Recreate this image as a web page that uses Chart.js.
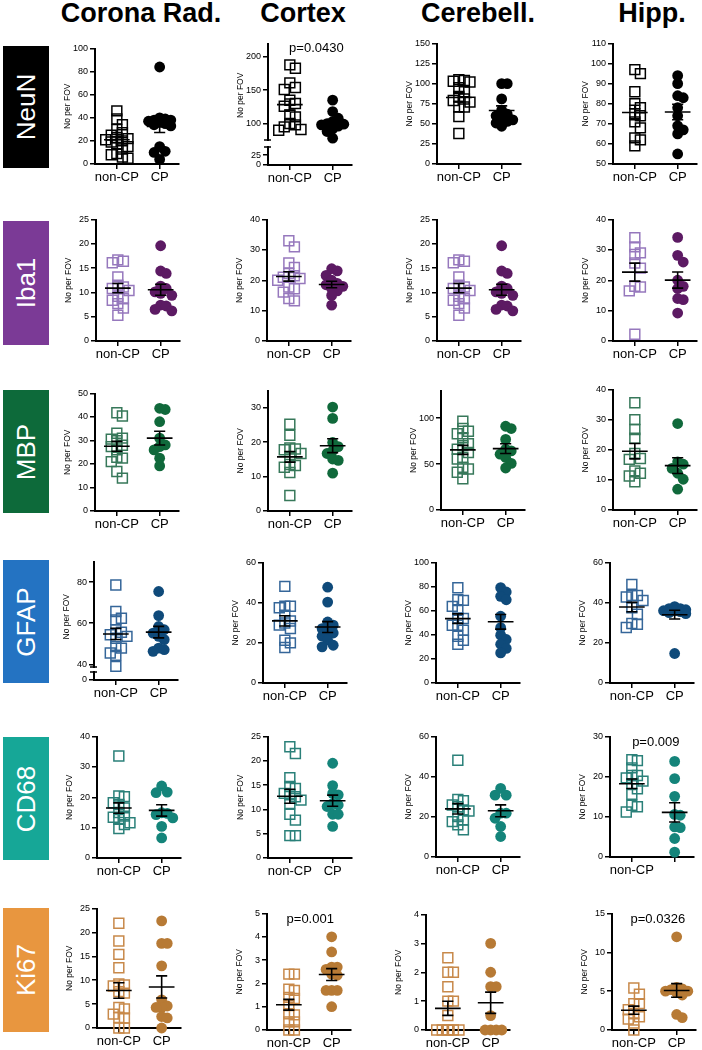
<!DOCTYPE html>
<html>
<head>
<meta charset="utf-8">
<script src="https://cdn.jsdelivr.net/npm/chart.js@4.4.0/dist/chart.umd.min.js"></script>
<style>
body { margin:0; background:#fff; width:702px; height:1050px; position:relative; overflow:hidden; font-family:"Liberation Sans", Arial, Helvetica, sans-serif; }
.head { position:absolute; top:0; font-weight:bold; font-size:27px; line-height:27px; transform:translateX(-50%); white-space:nowrap; }
.tag { position:absolute; left:3px; width:46px; display:flex; align-items:center; justify-content:center; }
.tag span { color:#fff; font-size:26px; line-height:26px; transform:rotate(-90deg); white-space:nowrap; display:block; }
canvas { position:absolute; }
</style>
</head>
<body>
<script>
//DATA
const groups = ['non-CP', 'CP'];
const regions = ['Corona Rad.', 'Cortex', 'Cerebell.', 'Hipp.'];
const markers = ['NeuN', 'Iba1', 'MBP', 'GFAP', 'CD68', 'Ki67'];
const yTitle = 'No per FOV';

const neunCoronaNon = [46, 39, 34, 30, 27, 25, 23, 22, 21, 20, 19, 17, 15, 13, 9, 8, 6, 5];
const neunCoronaCp = [84, 40, 39, 38, 38, 37, 36, 35, 34, 33, 15, 11, 10, 4];
const neunCortexNon = [188, 183, 161, 154, 151, 135, 130, 126, 113, 110, 100, 98, 95, 91, 90];
const neunCortexCp = [135, 118, 108, 103, 100, 99, 98, 96, 92, 88, 78];
const neunCerebNon = [105, 104, 103, 102, 95, 90, 84, 81, 79, 77, 71, 71, 59, 38];
const neunCerebCp = [100, 100, 81, 67, 62, 60, 57, 55, 53, 51, 47];
const neunHippNon = [97, 95, 86, 80, 78, 75, 74, 71, 68, 63, 62, 59];
const neunHippCp = [94, 90, 84, 83, 78, 74, 69, 67, 65, 55];

const iba1CoronaNon = [16.7, 16.4, 16.1, 13.2, 11.5, 11.1, 10.8, 10.4, 9.2, 8.7, 8.4, 7.7, 6.8, 5.3];
const iba1CoronaCp = [19.6, 14.4, 13.9, 11.3, 10.8, 10.1, 9.8, 9.4, 7.4, 7.2, 6.5, 6.2];
const iba1CortexNon = [33, 31, 25.7, 24.2, 22.2, 21.5, 21, 20.6, 20, 17.8, 17.2, 16.1, 14, 13.2];
const iba1CortexCp = [23.8, 23.1, 21.6, 20, 19, 18.5, 18, 17.3, 16.5, 15, 11.8];
const iba1CerebNon = [16.7, 16.4, 16.1, 13.2, 11.5, 11.1, 10.8, 10.4, 9.2, 8.7, 8.4, 7.7, 6.8, 5.3];
const iba1CerebCp = [19.6, 14.4, 13.9, 11.3, 10.8, 10.1, 9.8, 9.4, 7.4, 7.2, 6.5, 6.2];
const iba1HippNon = [34, 31, 29, 28.5, 25.7, 24, 18, 17.8, 16.5, 2.2];
const iba1HippCp = [34.1, 28.2, 26, 20, 18, 17.3, 14, 13.6, 9.2];

const mbpCoronaNon = [41.8, 40.4, 33.1, 31, 30.6, 29.9, 28, 27.4, 26, 22.9, 22.5, 21, 16.8, 14];
const mbpCoronaCp = [43.7, 43.2, 38, 31, 28.1, 27.4, 26, 22.5, 19.2];
const mbpCortexNon = [25.2, 22, 18.3, 18, 17.8, 16.7, 15.6, 13.5, 13.2, 12.7, 11.2, 4.5];
const mbpCortexCp = [30.2, 26.9, 19.9, 18.7, 17.5, 16.7, 15.1, 14.7, 11];
const mbpCerebNon = [96.5, 88.6, 85.7, 82.9, 78.6, 72, 70, 66.1, 62.5, 57.1, 55.4, 46.4, 44.6, 41, 34];
const mbpCerebCp = [91.1, 88.6, 76.8, 66.1, 64.3, 60.7, 57.1, 50.7, 45.7];
const mbpHippNon = [35.6, 30, 26.7, 23.8, 18.8, 17.1, 16.8, 13, 12.2, 11.3, 9.4];
const mbpHippCp = [28.7, 16, 15.2, 13.8, 12.2, 10.2, 6.9];

const gfapCoronaNon = [78.6, 65.7, 62.4, 61.6, 56.8, 55.6, 54.4, 53.6, 52.7, 48.7, 47.9, 45.5, 44.4, 39];
const gfapCoronaCp = [75.4, 63.7, 58.4, 56.8, 55.2, 53.6, 52, 47.9, 47.1, 46.3];
const gfapCortexNon = [48.1, 38.2, 38.2, 37.5, 33.7, 30.9, 29.9, 28.8, 27.1, 21.3, 20, 17.7];
const gfapCortexCp = [47.7, 40.3, 30.4, 28.8, 27.1, 25.9, 24.9, 23.3, 21.3, 18.8, 18];
const gfapCerebNon = [79.1, 69.1, 68.6, 63.6, 60.3, 53.9, 53.5, 47.9, 47.9, 43.8, 38.8, 35.5, 32.2];
const gfapCerebCp = [79.1, 75.5, 71.9, 69.1, 55.4, 46, 39.7, 36.1, 32.2, 28.7, 25];
const gfapHippNon = [49.1, 43.6, 43.6, 42.8, 41.1, 37.5, 34.2, 29.6, 29.2, 27.6];
const gfapHippCp = [38, 37, 37, 36.5, 36, 36, 35.5, 35, 34.5, 14.7];

const cd68CoronaNon = [33.6, 20.4, 20.2, 18.2, 17.6, 16.5, 15, 13.8, 13.4, 12.7, 11.6, 11, 9.7];
const cd68CoronaCp = [23.7, 21.7, 21.5, 14.9, 14.7, 14.3, 13.2, 10.4, 6.6];
const cd68CortexNon = [22.9, 21.5, 16.5, 14.7, 14.3, 13.3, 13, 12.6, 11.9, 11.2, 9, 7.8, 4.6, 4.6];
const cd68CortexCp = [19.5, 14.9, 13.3, 13, 11.2, 10.9, 10.6, 9, 9, 6.5];
const cd68CerebNon = [48.2, 28.7, 28, 25.9, 25, 23.4, 22.9, 20.1, 18.5, 17.6, 16, 13.5];
const cd68CerebCp = [34.2, 30.8, 30.8, 21.8, 21.8, 19.3, 15.2, 10.2];
const cd68HippNon = [24.2, 24, 22.2, 20.3, 20.3, 19.7, 18.9, 18.2, 17, 15.6, 12.9, 12.5, 11.2];
const cd68HippCp = [23.8, 19.5, 15.1, 10.6, 10.4, 7.5, 7.3, 4.6, 1.2];

const ki67CoronaNon = [21.9, 18.2, 15.4, 12.6, 9.2, 9, 8.8, 7.6, 7.3, 4.3, 4, 2.9, 2.2, 2.1, 0, 0];
const ki67CoronaCp = [22.4, 17.7, 17.7, 13, 5.9, 4.6, 4.3, 4.3, 2.4, 2.1, 0];
const ki67CortexNon = [2.4, 2.4, 1.75, 1.7, 1.4, 1.35, 1.05, 0.7, 0.65, 0.35, 0.35, 0, 0];
const ki67CortexCp = [4, 3.35, 2.7, 2.7, 2.6, 2.4, 2.35, 1.7, 1.7, 1.7, 1];
const ki67CerebNon = [2.5, 2, 2, 1.5, 1, 1, 0.5, 0, 0, 0, 0, 0, 0, 0];
const ki67CerebCp = [3, 2, 1.5, 1.5, 0.5, 0, 0, 0, 0];
const ki67HippNon = [5.4, 4.6, 3.4, 3.4, 2.6, 2.1, 1.7, 1.4, 0.9, 0];
const ki67HippCp = [12, 5.5, 5.3, 5.2, 5, 5, 4.8, 4.5, 2, 1.6];

// y tick labels, one list per panel
const neunTicks = [[0, 20, 40, 60, 80, 100], [100, 150, 200], [0, 25, 50, 75, 100, 125, 150], [50, 60, 70, 80, 90, 100, 110]];
const iba1Ticks = [[0, 5, 10, 15, 20, 25], [0, 10, 20, 30, 40], [0, 5, 10, 15, 20, 25], [0, 10, 20, 30, 40]];
const mbpTicks = [[0, 10, 20, 30, 40, 50], [0, 10, 20, 30], [0, 50, 100], [0, 10, 20, 30, 40]];
const gfapTicks = [[40, 60, 80], [0, 20, 40, 60], [0, 20, 40, 60, 80, 100], [0, 20, 40, 60]];
const cd68Ticks = [[0, 10, 20, 30, 40], [0, 5, 10, 15, 20, 25], [0, 20, 40, 60], [0, 10, 20, 30]];
const ki67Ticks = [[0, 5, 10, 15, 20, 25], [0, 1, 2, 3, 4, 5], [0, 1, 2, 3, 4], [0, 5, 10, 15]];
const neunCortexLowTicks = [0, 25];
const gfapCoronaLowTicks = [0];
const cd68HippLabels = ['non-CP', ''];
//DATA

const series = [
  [[neunCoronaNon, neunCoronaCp], [neunCortexNon, neunCortexCp], [neunCerebNon, neunCerebCp], [neunHippNon, neunHippCp]],
  [[iba1CoronaNon, iba1CoronaCp], [iba1CortexNon, iba1CortexCp], [iba1CerebNon, iba1CerebCp], [iba1HippNon, iba1HippCp]],
  [[mbpCoronaNon, mbpCoronaCp], [mbpCortexNon, mbpCortexCp], [mbpCerebNon, mbpCerebCp], [mbpHippNon, mbpHippCp]],
  [[gfapCoronaNon, gfapCoronaCp], [gfapCortexNon, gfapCortexCp], [gfapCerebNon, gfapCerebCp], [gfapHippNon, gfapHippCp]],
  [[cd68CoronaNon, cd68CoronaCp], [cd68CortexNon, cd68CortexCp], [cd68CerebNon, cd68CerebCp], [cd68HippNon, cd68HippCp]],
  [[ki67CoronaNon, ki67CoronaCp], [ki67CortexNon, ki67CortexCp], [ki67CerebNon, ki67CerebCp], [ki67HippNon, ki67HippCp]]
];
const tickSets = [neunTicks, iba1Ticks, mbpTicks, gfapTicks, cd68Ticks, ki67Ticks];

//LAYOUT  [axis x, top px, bottom px, min, max]
const layout = [
  [[95, 48, 164, 0, 100], [268, 43, 165, 64.7, 220], [437, 43, 164, 0, 150], [613, 43, 164, 50, 110]],
  [[96, 219, 341, 0, 25], [267, 219, 341, 0, 40], [437, 219, 341, 0, 25], [613, 219, 341, 0, 40]],
  [[95, 393, 511, 0, 50], [268, 390, 511, 0, 35], [441, 390, 510, 0, 130], [613, 389, 510, 0, 40]],
  [[94, 561, 680, 36.25, 90], [263, 562, 683, 0, 60], [436, 562, 683, 0, 100], [610, 562, 683, 0, 60]],
  [[97, 736, 858, 0, 40], [268, 736, 858, 0, 25], [436, 736, 857, 0, 60], [610, 736, 857, 0, 30]],
  [[97, 908, 1028, 0, 25], [267, 913, 1030, 0, 5], [426, 914, 1030, 0, 4], [612, 913, 1030, 0, 15]]
];
const breaks = {
  '0,1': {at: 76, lowMax: 45, lowPx: 18, low: neunCortexLowTicks},
  '3,0': {at: 38.7, lowMax: 10, lowPx: 8, low: gfapCoronaLowTicks}
};
const notes = {
  '0,1': ['p=0.0430', 0.62, 212],
  '4,3': ['p=0.009', 0.56, 28.6],
  '5,1': ['p=0.001', 0.5, 4.76],
  '5,3': ['p=0.0326', 0.56, 14.3]
};
const rowColors = [
  {box: '#000000', sq: '#000000', dot: '#000000'},
  {box: '#7b3a96', sq: '#9678bd', dot: '#5c1a63'},
  {box: '#0d6a3a', sq: '#37785a', dot: '#10693b'},
  {box: '#2473c2', sq: '#356699', dot: '#0f4a7a'},
  {box: '#16a797', sq: '#2a8079', dot: '#14847a'},
  {box: '#e8963f', sq: '#c8894a', dot: '#b77a35'}
];
const tagSpans = [[46, 168], [221, 345], [390, 513], [560, 683], [737, 860], [908, 1032]];
const headX = [141, 303, 478, 652];
const FONT = '"Liberation Sans", Arial, Helvetica, sans-serif';
const PAD_T = 8, PAD_R = 8, YW = 34, XH = 28, PLOT_W = 84;
const STEP = 0.13; // horizontal step between side-by-side points, x units
//LAYOUT

Chart.defaults.font.family = FONT;
Chart.defaults.color = '#000';

//HEADERS AND ROW TAGS
regions.forEach((t, i) => {
  const d = document.createElement('div');
  d.className = 'head';
  d.style.left = headX[i] + 'px';
  d.textContent = t;
  document.body.appendChild(d);
});
markers.forEach((t, i) => {
  const d = document.createElement('div');
  d.className = 'tag';
  d.style.top = tagSpans[i][0] + 'px';
  d.style.height = (tagSpans[i][1] - tagSpans[i][0]) + 'px';
  d.style.background = rowColors[i].box;
  d.innerHTML = '<span>' + t + '</span>';
  document.body.appendChild(d);
});

//PLUGINS
const notePlugin = {
  id: 'note',
  afterDatasetsDraw(chart, args, opts) {
    if (!opts.text) return;
    const ctx = chart.ctx;
    ctx.save();
    ctx.font = '13px ' + FONT;
    ctx.fillStyle = '#000';
    ctx.textAlign = 'center';
    ctx.textBaseline = 'middle';
    ctx.fillText(opts.text, chart.scales.x.getPixelForValue(opts.x), chart.scales.y.getPixelForValue(opts.y));
    ctx.restore();
  }
};
const breakPlugin = {
  id: 'axisBreak',
  beforeDatasetsDraw(chart, args, opts) {
    if (opts.at === undefined || !chart.scales.y2) return;
    const ctx = chart.ctx;
    const x0 = chart.chartArea.left;
    const a = Math.round(chart.scales.y.getPixelForValue(opts.at));
    const b = Math.round(chart.scales.y2.top);
    ctx.save();
    ctx.fillStyle = '#fff';
    ctx.fillRect(x0 - 3, a + 1, 6, b - a - 2);
    ctx.strokeStyle = '#000';
    ctx.lineWidth = 1.5;
    ctx.beginPath();
    ctx.moveTo(x0 - 4, a); ctx.lineTo(x0 + 3, a);
    ctx.moveTo(x0 - 4, b); ctx.lineTo(x0 + 3, b);
    ctx.stroke();
    ctx.restore();
  }
};

//FUNCIONES
function spread(vals, center, unitPx) { // puts close values side by side
  const placed = [];
  const out = new Array(vals.length);
  const slots = [0, 1, -1, 2, -2];
  const order = vals.map((v, i) => i).sort((a, b) => vals[b] - vals[a]);
  order.forEach(i => {
    const v = vals[i];
    let best = 0, bestGap = -1;
    for (const s of slots) {
      const near = placed.filter(p => p.s === s).map(p => Math.abs(p.v - v) * unitPx);
      const gap = near.length ? Math.min(...near) : 99;
      if (gap >= 7) { best = s; bestGap = gap; break; }
      if (gap > bestGap) { best = s; bestGap = gap; }
    }
    placed.push({s: best, v});
    out[i] = {x: center + best * STEP, y: v};
  });
  return out;
}

function summary(vals, cx) { // mean line with SEM whiskers
  const n = vals.length;
  const m = vals.reduce((a, b) => a + b, 0) / n;
  const sd = Math.sqrt(vals.reduce((a, b) => a + (b - m) ** 2, 0) / (n - 1));
  const se = sd / Math.sqrt(n);
  const gap = {x: cx, y: null};
  return [
    {x: cx - 0.3, y: m}, {x: cx + 0.3, y: m}, gap,
    {x: cx, y: m - se}, {x: cx, y: m + se}, gap,
    {x: cx - 0.13, y: m + se}, {x: cx + 0.13, y: m + se}, gap,
    {x: cx - 0.13, y: m - se}, {x: cx + 0.13, y: m - se}
  ];
}

function yAxis(min, max, ticks, extra) {
  return Object.assign({
    type: 'linear', min: min, max: max,
    afterBuildTicks: s => { s.ticks = ticks.map(v => ({value: v})); },
    afterFit: s => { s.width = YW; },
    ticks: {font: {size: 9}, color: '#000', padding: 2, autoSkip: false, callback: v => String(v)},
    grid: {drawOnChartArea: false, color: '#000', lineWidth: 1.5, tickLength: 5},
    border: {color: '#000', width: 2}
  }, extra);
}

function makePanel(r, c) {
  const [ax, top, bot, min, max] = layout[r][c];
  const key = r + ',' + c;
  const brk = breaks[key];
  const note = notes[key];
  const [non, cp] = series[r][c];
  const col = rowColors[r];
  const labels = key === '4,3' ? cd68HippLabels : groups;

  const cv = document.createElement('canvas');
  const w = YW + PLOT_W + PAD_R;
  const h = PAD_T + (bot - top) + XH;
  cv.width = w; cv.height = h;
  cv.style.left = (ax - YW) + 'px';
  cv.style.top = (top - PAD_T) + 'px';
  document.body.appendChild(cv);

  const upPx = (bot - top) - (brk ? brk.lowPx : 0);
  const unitPx = upPx / (max - min);
  const title = {display: true, text: yTitle, font: {size: 8.5}, color: '#000', padding: {top: 2, bottom: 0}};

  const scales = {
    x: {
      type: 'linear', min: -0.51, max: 1.44,
      afterBuildTicks: s => { s.ticks = [{value: 0}, {value: 1}]; },
      afterFit: s => { s.height = XH; },
      ticks: {font: {size: 13}, color: '#000', padding: 1, maxRotation: 0, autoSkip: false, callback: (v, i) => labels[i]},
      grid: {drawOnChartArea: false, color: '#000', lineWidth: 1.5, tickLength: 5},
      border: {color: '#000', width: 2}
    }
  };
  if (brk) {
    // the lower segment is listed first so it is stacked below the upper one
    scales.y2 = yAxis(0, brk.lowMax, brk.low, {stack: 'brk', stackWeight: brk.lowPx});
    scales.y = yAxis(min, max, tickSets[r][c], {stack: 'brk', stackWeight: upPx, title: title});
  } else {
    scales.y = yAxis(min, max, tickSets[r][c], {title: title});
  }

  const line = {showLine: true, pointRadius: 0, borderColor: '#000', borderWidth: 1.6, clip: false, spanGaps: false, order: 0, yAxisID: 'y'};
  new Chart(cv, {
    type: 'scatter',
    data: {
      datasets: [
        Object.assign({data: summary(non, 0)}, line),
        Object.assign({data: summary(cp, 1)}, line),
        {data: spread(non, 0, unitPx), yAxisID: 'y', pointStyle: 'rect', pointRadius: 7, borderWidth: 1.5, pointBorderWidth: 1.5,
          borderColor: col.sq, backgroundColor: 'rgba(255,255,255,0)', clip: false, order: 2},
        {data: spread(cp, 1, unitPx), yAxisID: 'y', pointStyle: 'circle', pointRadius: 5.4, borderWidth: 0, pointBorderWidth: 0,
          borderColor: col.dot, backgroundColor: col.dot, clip: false, order: 1}
      ]
    },
    options: {
      responsive: false,
      animation: false,
      devicePixelRatio: 1,
      layout: {padding: {top: PAD_T, right: PAD_R, left: 0, bottom: 0}},
      scales: scales,
      plugins: {
        legend: {display: false},
        tooltip: {enabled: false},
        note: note ? {text: note[0], x: note[1], y: note[2]} : {},
        axisBreak: brk ? {at: brk.at} : {}
      }
    },
    plugins: [notePlugin, breakPlugin]
  });
}

//LLAMADO DE FUNCIONES
for (let r = 0; r < 6; r++) {
  for (let c = 0; c < 4; c++) makePanel(r, c);
}
</script>
</body>
</html>
